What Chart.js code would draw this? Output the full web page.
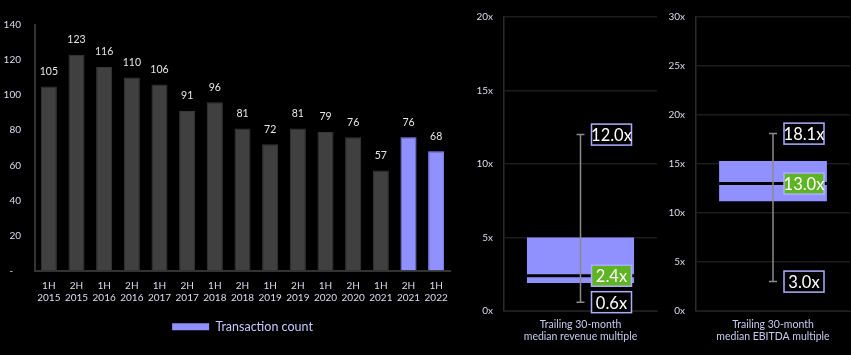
<!DOCTYPE html>
<html>
<head>
<meta charset="utf-8">
<script src="https://cdn.jsdelivr.net/npm/chart.js@4.4.1/dist/chart.umd.min.js"></script>
<style>
  html, body { margin: 0; padding: 0; background: #000; width: 851px; height: 355px; overflow: hidden; }
  canvas { position: absolute; top: 0; }
</style>
</head>
<body>
<canvas id="c1" width="460" height="355" style="left:0px"></canvas>
<canvas id="c2" width="200" height="355" style="left:460px"></canvas>
<canvas id="c3" width="191" height="355" style="left:660px"></canvas>
<script>
// ---- Data ----
const periods = [
  ['1H','2015'],['2H','2015'],['1H','2016'],['2H','2016'],['1H','2017'],['2H','2017'],
  ['1H','2018'],['2H','2018'],['1H','2019'],['2H','2019'],['1H','2020'],['2H','2020'],
  ['1H','2021'],['2H','2021'],['1H','2022']
];
const transactionCounts = [105,123,116,110,106,91,96,81,72,81,79,76,57,76,68];
const legendLabel = 'Transaction count';

const revenueCategory = [['Trailing 30-month','median revenue multiple']];
const revenueBox = [1.9, 5.0];        // lower / upper quartile
const revenueWhisker = [0.6, 12.0];   // low / high
const revenueMedian = [2.4];

const ebitdaCategory = [['Trailing 30-month','median EBITDA multiple']];
const ebitdaBox = [11.2, 15.3];
const ebitdaWhisker = [3.0, 18.1];
const ebitdaMedian = [13.0];

// ---- Styles ----
const FONT = 'Lato, "Open Sans", sans-serif';
const GRAY_BAR = '#404040';
const PERI = '#9090ff';
const TEXT = '#dcdcf0';
Chart.defaults.font.family = FONT;
Chart.defaults.color = TEXT;

// value labels above bars
const barLabels = {
  id: 'barLabels',
  afterLayout(chart) {
    // centre the legend under the plot area
    const lg = chart.legend;
    if (lg) {
      const shift = (chart.chartArea.left + chart.chartArea.right) / 2 - (lg.left + lg.right) / 2;
      lg.left += shift; lg.right += shift;
    }
  },
  afterDatasetsDraw(chart) {
    const ctx = chart.ctx;
    const meta = chart.getDatasetMeta(0);
    ctx.save();
    ctx.font = '10.5px ' + FONT;
    ctx.fillStyle = '#e6e6e6';
    ctx.textAlign = 'center';
    ctx.textBaseline = 'middle';
    meta.data.forEach((bar, i) => {
      ctx.fillText(String(chart.data.datasets[0].data[i]), bar.x, bar.y - 15);
    });
    ctx.restore();
  }
};

new Chart(document.getElementById('c1'), {
  type: 'bar',
  data: {
    labels: periods,
    datasets: [{
      label: legendLabel,
      data: transactionCounts,
      backgroundColor: ctx => ctx.dataIndex >= transactionCounts.length - 2 ? PERI : GRAY_BAR,
      borderColor: ctx => ctx.dataIndex >= transactionCounts.length - 2 ? PERI : '#383838',
      borderWidth: 1,
      categoryPercentage: 1,
      barPercentage: 0.58
    }]
  },
  options: {
    responsive: false,
    animation: false,
    devicePixelRatio: 1,
    layout: { padding: { left: 0, top: 25, right: 10, bottom: 12 } },
    plugins: {
      tooltip: { enabled: false },
      legend: {
        display: true,
        position: 'bottom',
        labels: {
          boxWidth: 37, boxHeight: 7,
          color: '#c8c8ff',
          font: { size: 12.5, family: FONT },
          padding: 10,
          generateLabels: () => [{ text: legendLabel, fillStyle: PERI, strokeStyle: PERI, lineWidth: 0, fontColor: '#c8c8ff' }]
        }
      }
    },
    scales: {
      x: {
        grid: { display: false, drawTicks: false },
        border: { color: '#333333', width: 2 },
        ticks: { color: TEXT, font: { size: 10 }, padding: 9, maxRotation: 0, autoSkip: false },
        afterFit: s => { s.height = 40; }
      },
      y: {
        min: 0, max: 140,
        grid: { display: false, drawTicks: false },
        border: { color: '#333333', width: 2 },
        ticks: { stepSize: 20, color: TEXT, font: { size: 10 }, padding: 14,
          callback: v => v === 0 ? '-   ' : String(v) },
        afterFit: s => { s.width = 35; }
      }
    }
  },
  plugins: [barLabels]
});

// box-plot overlay: whisker, median and value labels
function boxOverlay(whisker, median) {
  return {
    id: 'boxOverlay',
    afterDatasetsDraw(chart) {
      const ctx = chart.ctx;
      const y = chart.scales.y;
      const bar = chart.getDatasetMeta(0).data[0];
      const cx = bar.x, half = bar.width / 2;
      const yLow = y.getPixelForValue(whisker[0]);
      const yHigh = y.getPixelForValue(whisker[1]);
      const yMed = y.getPixelForValue(median[0]);
      ctx.save();
      // median line
      ctx.strokeStyle = '#000';
      ctx.lineWidth = 3;
      ctx.beginPath(); ctx.moveTo(cx - half, yMed); ctx.lineTo(cx + half, yMed); ctx.stroke();
      // whisker
      ctx.strokeStyle = '#8a8a8a';
      ctx.lineWidth = 1.5;
      ctx.beginPath();
      ctx.moveTo(cx, yLow); ctx.lineTo(cx, yHigh);
      ctx.moveTo(cx - 4, yLow); ctx.lineTo(cx + 4, yLow);
      ctx.moveTo(cx - 4, yHigh); ctx.lineTo(cx + 4, yHigh);
      ctx.stroke();
      // labels
      const items = [
        { v: whisker[1], fill: '#000' },
        { v: median[0], fill: '#5fb424' },
        { v: whisker[0], fill: '#000' }
      ];
      ctx.font = '16.5px ' + FONT;
      ctx.textAlign = 'center';
      ctx.textBaseline = 'middle';
      items.forEach(it => {
        const py = y.getPixelForValue(it.v);
        const bx = cx + 11, bw = 40, bh = 21;
        ctx.fillStyle = it.fill;
        ctx.fillRect(bx, py - bh / 2, bw, bh);
        ctx.strokeStyle = '#aeaeff';
        ctx.lineWidth = 1.5;
        ctx.strokeRect(bx, py - bh / 2, bw, bh);
        ctx.fillStyle = '#ffffff';
        ctx.fillText(it.v.toFixed(1) + 'x', bx + bw / 2, py + 1);
      });
      ctx.restore();
    }
  };
}

function boxChart(id, category, box, whisker, median, yMax, leftW, rightPad) {
  new Chart(document.getElementById(id), {
    type: 'bar',
    data: {
      labels: category,
      datasets: [{
        data: [box],
        backgroundColor: PERI,
        borderWidth: 0,
        categoryPercentage: 1,
        barPercentage: 0.7
      }]
    },
    options: {
      responsive: false,
      animation: false,
      devicePixelRatio: 1,
      layout: { padding: { left: 0, top: 14, right: rightPad, bottom: 0 } },
      plugins: { legend: { display: false }, tooltip: { enabled: false } },
      scales: {
        x: {
          grid: { display: false, drawTicks: false },
          border: { color: '#1e1e1e', width: 1 },
          ticks: { color: '#c8c8f0', font: { size: 10.5 }, padding: 7, maxRotation: 0 },
          afterFit: s => { s.height = 44; }
        },
        y: {
          min: 0, max: yMax,
          grid: { color: '#1c1c1c', lineWidth: 1.5, drawTicks: false },
          border: { color: '#2c2c2c', width: 1.5 },
          ticks: { stepSize: 5, color: TEXT, font: { size: 10 }, padding: 11,
            callback: v => v + 'x' },
          afterFit: s => { s.width = leftW; }
        }
      }
    },
    plugins: [boxOverlay(whisker, median)]
  });
}

boxChart('c2', revenueCategory, revenueBox, revenueWhisker, revenueMedian, 20, 44, 3);
boxChart('c3', ebitdaCategory, ebitdaBox, ebitdaWhisker, ebitdaMedian, 30, 36, 1);
</script>
</body>
</html>
